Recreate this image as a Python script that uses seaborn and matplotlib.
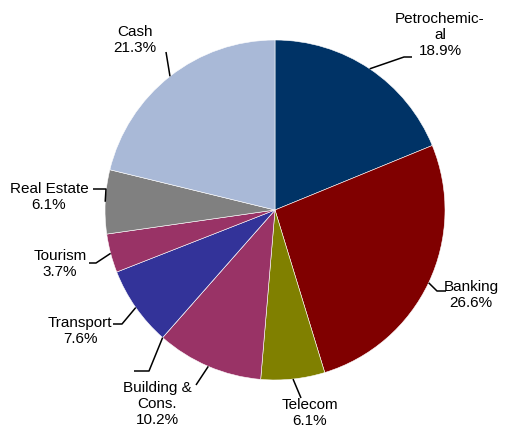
import numpy as np
import matplotlib
matplotlib.use("Agg")
import matplotlib.pyplot as plt
import seaborn as sns

# Portfolio allocation by sector (percent)
sectors = ["Petrochemic-\nal", "Banking", "Telecom", "Building &\nCons.", "", "Transport",
           "Tourism", "Real Estate", "Cash"]
shares = [18.9, 26.6, 6.1, 10.2, 0.0, 7.6, 3.7, 6.1, 21.3]
colors = ["#003366", "#800000", "#808000", "#993366", "#993366", "#333399",
          "#993366", "#808080", "#A9B9D7"]

sns.set_theme(style="white")
plt.rcParams["font.family"] = ["Liberation Sans", "DejaVu Sans"]

W, H = 512, 428
CX, CY, R = 275, 210, 170  # pie centre and radius in pixels

fig = plt.figure(figsize=(W / 100, H / 100), dpi=100)
ax = fig.add_axes([0, 0, 1, 1])
ax.axis("off")

wedges, _ = ax.pie(shares, colors=colors, startangle=90, counterclock=False,
                   radius=1.0, wedgeprops=dict(edgecolor="white", linewidth=0.4))
ax.set_xlim(-CX / R, (W - CX) / R)
ax.set_ylim(-(H - CY) / R, CY / R)


def px(x, y):
    return (x - CX) / R, (CY - y) / R


# Label layout: (text centre, elbow, line end)
layout = [
    ((440, 35), (404, 57), (412, 57)),
    ((471, 295), (437, 291), (446, 291)),
    ((310, 413), (301, 398), None),
    ((157, 404), (196, 385), None),
    (None, (149, 371), (134, 371)),
    ((80, 331), (122, 324), (113, 324)),
    ((60, 264), (96, 263), (89, 263)),
    ((49, 197), (106, 189), (93, 189)),
    ((135, 40), (166, 52), None),
]

total = sum(shares)
cum = 0.0
for name, val, (tpos, elbow, end) in zip(sectors, shares, layout):
    mid = cum + val / 2
    cum += val
    ang = np.deg2rad(90 - 360 * mid / total)
    sx, sy = np.cos(ang), np.sin(ang)
    ex, ey = px(*elbow)
    xs, ys = [sx, ex], [sy, ey]
    if end is not None:
        nx, ny = px(*end)
        xs.append(nx)
        ys.append(ny)
    ax.plot(xs, ys, color="black", linewidth=1.1, solid_capstyle="butt")
    if tpos is not None:
        tx, ty = px(*tpos)
        ax.text(tx, ty, f"{name}\n{val:.1f}%", ha="center", va="center",
                fontsize=11, color="black", linespacing=1.2)

fig.savefig("out.png", dpi=100)
